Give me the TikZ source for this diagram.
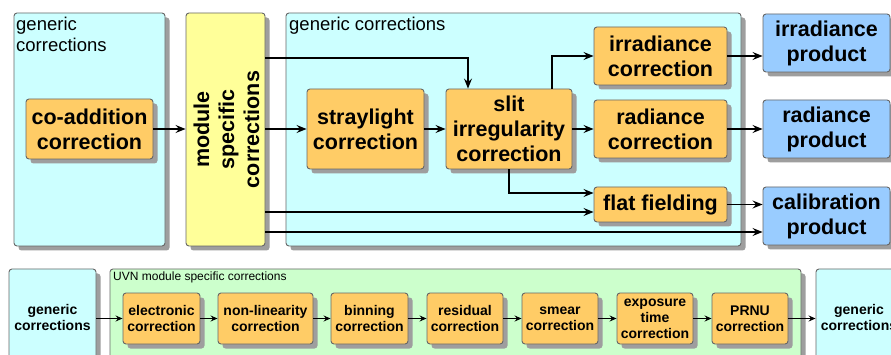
\documentclass[tikz,border=0pt]{standalone}
\usepackage{fontspec}
\setmainfont{Liberation Sans}
\usetikzlibrary{arrows.meta,shadows,calc}
\definecolor{cyanp}{HTML}{CCFFFF}
\definecolor{yellowp}{HTML}{FFFF99}
\definecolor{orangep}{HTML}{FFCC66}
\definecolor{bluep}{HTML}{99CCFF}
\definecolor{greenp}{HTML}{CCFFCC}
\definecolor{edgep}{HTML}{666666}
\begin{document}
\begin{tikzpicture}[x=1pt,y=-1pt,
  boxbase/.style={draw=edgep, line width=0.9pt, rounded corners=3pt, inner sep=0pt, align=center,
    drop shadow={shadow xshift=4.5pt,shadow yshift=-4.5pt,fill=black!38,opacity=1}},
  panel/.style={boxbase, fill=cyanp},
  gpanel/.style={boxbase, fill=greenp},
  modbox/.style={boxbase, fill=yellowp},
  obox/.style={boxbase, fill=orangep, font=\fontsize{21.5}{25}\selectfont\bfseries},
  pbox/.style={boxbase, fill=bluep, font=\fontsize{21.5}{25}\selectfont\bfseries},
  sobox/.style={boxbase, fill=orangep, font=\fontsize{14}{16}\selectfont\bfseries},
  plabel/.style={inner sep=0pt, anchor=north west, align=left, font=\fontsize{18.5}{21}\selectfont},
  arr/.style={line width=1.2pt, -{Stealth[length=10pt,width=8pt,inset=3.5pt]}},
  sarr/.style={line width=1pt, -{Stealth[length=7pt,width=6pt,inset=2.5pt]}}]
\useasboundingbox (0,0) rectangle (891,355);
\fill[white] (0,0) rectangle (891,355);

% ---------- top row ----------
\node[panel, minimum width=151pt, minimum height=233pt] (gen1) at (89.5,129.5) {};
\node[plabel] (gen1l) at (16,17) {generic\\corrections};
\node[obox, minimum width=127pt, minimum height=60pt] (coadd) at (89.5,129) {co-addition\\correction};

\node[modbox, minimum width=79pt, minimum height=233pt] (module) at (225.5,129.5) {};
\node[rotate=90, align=center, inner sep=0pt, font=\fontsize{21.5}{25}\selectfont\bfseries] (modtxt) at (226.5,129.5) {module\\specific\\corrections};

\node[panel, minimum width=455pt, minimum height=233pt] (gen2) at (513.5,129.5) {};
\node[plabel] (gen2l) at (289,17) {generic corrections};

\node[obox, minimum width=117pt, minimum height=80pt] (stray) at (365.5,129) {straylight\\correction};
\node[obox, minimum width=126pt, minimum height=80pt] (slit) at (509,129) {slit\\irregularity\\correction};
\node[obox, minimum width=133pt, minimum height=58pt] (irrc) at (660.5,56) {irradiance\\correction};
\node[obox, minimum width=133pt, minimum height=58pt] (radc) at (660.5,129) {radiance\\correction};
\node[obox, minimum width=133pt, minimum height=35pt] (flat) at (660.5,204.5) {flat fielding};

\node[pbox, minimum width=127pt, minimum height=58pt] (irrp) at (826.5,43) {irradiance\\product};
\node[pbox, minimum width=127pt, minimum height=58pt] (radp) at (826.5,129) {radiance\\product};
\node[pbox, minimum width=127pt, minimum height=58pt] (calp) at (826.5,216) {calibration\\product};

% connectors top
\draw[arr] (coadd.east) -- (coadd.east -| module.west);
\draw[arr] (stray.west -| module.east) -- (stray.west);
\coordinate (sa) at (468,58);
\draw[arr] (module.east |- sa) -| (slit.north -| sa);
\coordinate (fa) at (594,212);
\draw[arr] (module.east |- fa) -- (flat.west |- fa);
\coordinate (ca) at (763,232);
\draw[arr] (module.east |- ca) -- (calp.west |- ca);
\draw[arr] (stray.east) -- (slit.west |- stray.east);
\coordinate (si) at (552,56);
\draw[arr] (slit.north -| si) |- (irrc.west);
\draw[arr] (slit.east) -- (radc.west);
\coordinate (sf) at (509,193);
\draw[arr] (slit.south) |- (flat.west |- sf);
\draw[arr] (irrc.east) -- (irrc.east -| irrp.west);
\draw[arr] (radc.east) -- (radc.east -| radp.west);
\draw[arr] (flat.east) -- (flat.east -| calp.west);

% ---------- bottom row ----------
\node[panel, minimum width=87pt, minimum height=96pt, font=\fontsize{14}{16}\selectfont\bfseries] (gen3) at (52.5,317) {generic\\corrections};
\node[gpanel, minimum width=691pt, minimum height=96pt] (uvn) at (455.5,317) {};
\node[inner sep=0pt, anchor=north west, font=\fontsize{12}{14}\selectfont] (uvnl) at (113,272) {UVN module specific corrections};
\node[panel, minimum width=86pt, minimum height=96pt, font=\fontsize{14}{16}\selectfont\bfseries] (gen4) at (859,317) {generic\\corrections};

\node[sobox, minimum width=77pt, minimum height=51pt] (b1) at (161.5,318.5) {electronic\\correction};
\node[sobox, minimum width=95pt, minimum height=51pt] (b2) at (265.5,318.5) {non-linearity\\correction};
\node[sobox, minimum width=77pt, minimum height=51pt] (b3) at (369.5,318.5) {binning\\correction};
\node[sobox, minimum width=76pt, minimum height=51pt] (b4) at (465,318.5) {residual\\correction};
\node[sobox, minimum width=76pt, minimum height=51pt] (b5) at (560,318.5) {smear\\correction};
\node[sobox, minimum width=76pt, minimum height=51pt] (b6) at (655,318.5) {exposure\\time\\correction};
\node[sobox, minimum width=76pt, minimum height=51pt] (b7) at (750,318.5) {PRNU\\correction};

\draw[sarr] (gen3.east |- b1.west) -- (b1.west);
\draw[sarr] (b1) -- (b2);
\draw[sarr] (b2) -- (b3);
\draw[sarr] (b3) -- (b4);
\draw[sarr] (b4) -- (b5);
\draw[sarr] (b5) -- (b6);
\draw[sarr] (b6) -- (b7);
\draw[sarr] (b7.east) -- (b7.east -| gen4.west);
\end{tikzpicture}
\end{document}
